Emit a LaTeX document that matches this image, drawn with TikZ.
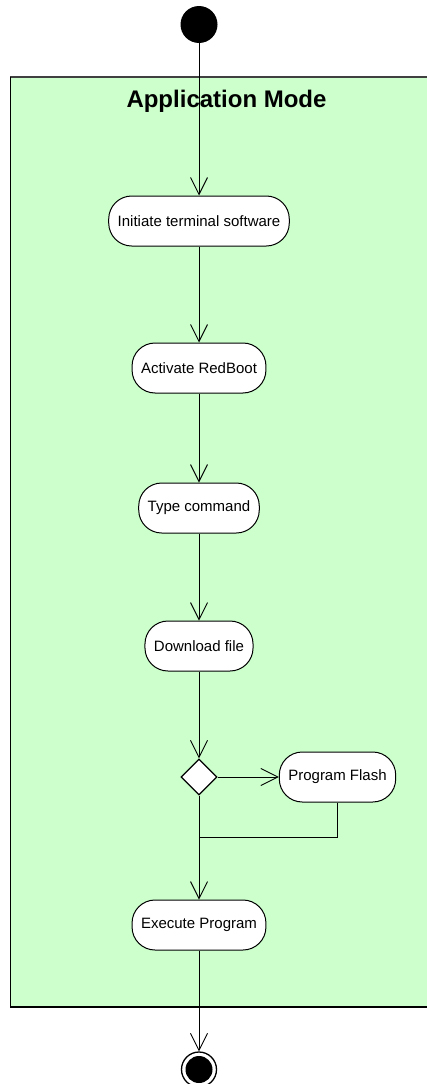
\documentclass[tikz,border=0pt]{standalone}
\usepackage{fontspec}
\setmainfont{Liberation Sans}
\usetikzlibrary{arrows.meta,shapes.geometric}
\definecolor{lanegreen}{HTML}{CCFFCC}
\definecolor{laneedge}{HTML}{404040}
\begin{document}
\begin{tikzpicture}[x=1pt,y=-1pt,
  action/.style={draw=black, line width=1pt, fill=white, rounded corners=23pt,
    minimum height=50pt, inner xsep=9pt, inner ysep=0pt,
    font=\fontsize{15}{18}\selectfont},
  flow/.style={draw=black, line width=0.9pt,
    -{Straight Barb[length=17pt,width=17pt,line width=0.9pt]}},
  link/.style={draw=black, line width=0.9pt},
  decision/.style={diamond, draw=black, fill=white, line width=1.3pt,
    minimum width=36pt, minimum height=36pt, inner sep=0pt},
  initial/.style={circle, fill=black, minimum size=37pt, inner sep=0pt},
  finalring/.style={circle, draw=black, fill=white, line width=1.3pt,
    minimum size=35pt, inner sep=0pt},
  finaldot/.style={circle, fill=black, minimum size=27pt, inner sep=0pt}
]
\useasboundingbox (0,0) rectangle (427,1084);
\clip (0,0) rectangle (427,1084);

% swimlane
\fill[lanegreen] (10,77) rectangle (440,1007);
\draw[laneedge, line width=2pt] (10,77) -- (440,77);
\draw[black, line width=1pt] (10,77) -- (10,1007);
\draw[black, line width=1.6pt] (10,1007) -- (440,1007);
\node[anchor=base, font=\fontsize{24}{28}\selectfont\bfseries] (lane) at (226.5,107) {Application Mode};

% states
\node[initial] (start) at (199,24.5) {};
\node[action] (init) at (199,221) {Initiate terminal software};
\node[action] (act) at (199,368) {Activate RedBoot};
\node[action] (type) at (199,508) {Type command};
\node[action] (down) at (199,646) {Download file};
\node[decision] (dec) at (199,777) {};
\node[action] (flash) at (337.5,777) {Program Flash};
\node[action] (exec) at (199,925) {Execute Program};
\node[finalring] (end) at (199,1069.5) {};
\node[finaldot] (enddot) at (end.center) {};
\coordinate (join) at (199,837);

% transitions
\draw[flow] (start) -- (init);
\draw[flow] (init) -- (act);
\draw[flow] (act) -- (type);
\draw[flow] (type) -- (down);
\draw[flow] (down) -- (dec);
\draw[flow] (dec) -- (flash);
\draw[flow] (dec) -- (exec);
\draw[link] (flash.south) |- (join);
\draw[flow] (exec) -- (end);
\end{tikzpicture}
\end{document}
